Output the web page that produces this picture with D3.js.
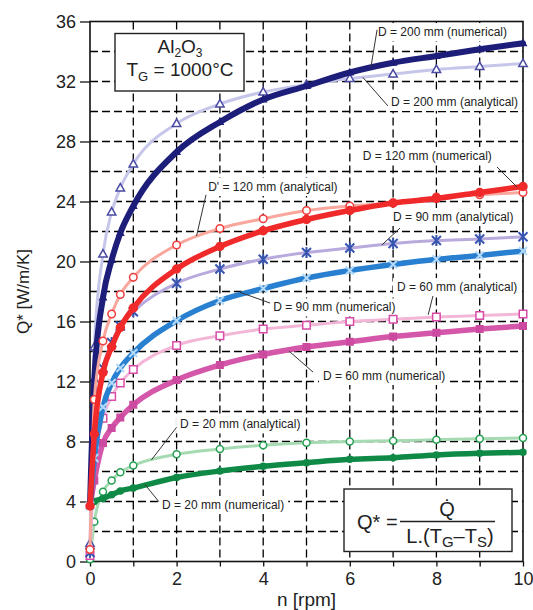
<!DOCTYPE html>
<html><head><meta charset="utf-8">
<script src="https://cdn.jsdelivr.net/npm/d3@7"></script>
<style>
body{margin:0;background:#fff}
svg{display:block}
text{font-family:"Liberation Sans",Arial,Helvetica,sans-serif}
</style>
</head><body>
<svg id="chart" width="533" height="610"></svg>
<script>
// ---------- data ----------
const nValues   = [0, 0.1, 0.3, 0.5, 0.7, 1, 2, 3, 4, 5, 6, 7, 8, 9, 10];
const anal200 = [1.2, 14.3, 20.5, 23.3, 24.9, 26.5, 29.2, 30.5, 31.3, 31.8, 32.2, 32.5, 32.8, 33.0, 33.2];
const num200  = [3.7, 12.2, 17.6, 20.1, 21.9, 23.7, 27.3, 29.3, 30.8, 31.7, 32.6, 33.25, 33.7, 34.15, 34.55];
const anal120 = [0.8, 10.8, 14.7, 16.5, 17.8, 18.95, 21.1, 22.2, 22.85, 23.4, 23.7, 23.9, 24.3, 24.45, 24.6];
const num120  = [3.7, 8.5, 12.6, 14.3, 15.6, 16.9, 19.5, 21.0, 22.05, 22.8, 23.4, 23.9, 24.2, 24.6, 25.0];
const anal90  = [0.6, 9.2, 12.9, 14.6, 15.7, 16.65, 18.55, 19.5, 20.15, 20.6, 20.9, 21.2, 21.4, 21.5, 21.65];
const num90   = [3.7, 6.9, 10.3, 11.9, 12.9, 13.9, 16.05, 17.4, 18.2, 18.9, 19.4, 19.8, 20.15, 20.4, 20.7];
const anal60  = [0.4, 6.4, 9.55, 11.0, 11.9, 12.8, 14.4, 15.05, 15.5, 15.75, 16.0, 16.15, 16.3, 16.4, 16.5];
const num60   = [3.7, 5.4, 7.9, 8.9, 9.6, 10.45, 12.1, 13.1, 13.8, 14.3, 14.65, 15.0, 15.25, 15.5, 15.7];
const anal20  = [0.15, 2.65, 4.65, 5.4, 5.95, 6.4, 7.15, 7.5, 7.75, 7.92, 8.0, 8.05, 8.12, 8.19, 8.23];
const num20   = [3.7, 4.0, 4.2, 4.45, 4.7, 4.9, 5.6, 6.03, 6.35, 6.59, 6.81, 6.92, 7.1, 7.21, 7.28];
const xTickLabels = [0, 2, 4, 6, 8, 10];
const yTickLabels = [0, 4, 8, 12, 16, 20, 24, 28, 32, 36];
const labelTexts = [
  "D = 200 mm (numerical)", "D = 200 mm (analytical)",
  "D = 120 mm (numerical)", "D' = 120 mm (analytical)",
  "D = 90 mm (analytical)", "D = 90 mm (numerical)",
  "D = 60 mm (analytical)", "D = 60 mm (numerical)",
  "D = 20 mm (analytical)", "D = 20 mm (numerical)"
];

// ---------- layout ----------
const W = 533, H = 610;
const L = 90, R = 523, T = 21.5, B = 561.5;
const x = d3.scaleLinear().domain([0, 10]).range([L, R]);
const y = d3.scaleLinear().domain([0, 36]).range([B, T]);
const svg = d3.select("#chart");

// series table (built from the arrays above)
const series = [
  {vals: anal20,  color:"#a6dab2", width:3,   mk:"circle",   mkStroke:"#25a052", mkFill:"#fff", size:7},
  {vals: num20,   color:"#0f8a46", width:5.5, mk:"dot",      mkStroke:"#0f8a46", mkFill:"#0f8a46", size:6},
  {vals: anal60,  color:"#f4b6d6", width:3,   mk:"square",   mkStroke:"#d84ca8", mkFill:"#fff", size:7.5},
  {vals: num60,   color:"#d457a9", width:5.5, mk:"fsquare",  mkStroke:"#cc4aa0", mkFill:"#cc4aa0", size:6.5},
  {vals: anal90,  color:"#b9aadd", width:3,   mk:"asterisk", mkStroke:"#3855b0", mkFill:"none", size:9},
  {vals: num90,   color:"#2a80d0", width:5.5, mk:"times",    mkStroke:"#b4daf8", mkFill:"none", size:8},
  {vals: anal200, color:"#c6c6ea", width:3,   mk:"triangle", mkStroke:"#4a4aa4", mkFill:"#fff", size:8},
  {vals: num200,  color:"#1d1d7a", width:6,   mk:"ftriangle",mkStroke:"#1d1d7a", mkFill:"#1d1d7a", size:6},
  {vals: anal120, color:"#f9a69d", width:3,   mk:"circle",   mkStroke:"#f03c3c", mkFill:"#fff", size:7.5},
  {vals: num120,  color:"#f02a2a", width:5.5, mk:"dot",      mkStroke:"#f02a2a", mkFill:"#f02a2a", size:8}
];

// annotation placement (data units): text start, leader from, leader to
const labelPos = [
  {t:[6.65,35.03], a:[6.63,35.45], b:[6.49,33.0]},
  {t:[6.95,30.37], a:[6.88,30.37], b:[6.30,32.28]},
  {t:[6.30,26.77], a:[9.40,26.30], b:[9.86,24.97]},
  {t:[2.73,24.70], a:[2.68,24.45], b:[2.46,21.70]},
  {t:[7.00,22.70], a:[7.16,22.23], b:[6.74,21.10]},
  {t:[4.23,16.67], a:[4.16,17.23], b:[3.46,17.95]},
  {t:[7.09,18.03], a:[7.92,17.70], b:[7.81,16.45]},
  {t:[5.38,12.10], a:[5.15,12.63], b:[4.60,14.02]},
  {t:[2.08,8.87],  a:[2.00,8.95],  b:[1.42,6.78]},
  {t:[1.66,3.50],  a:[1.59,3.99],  b:[1.27,5.13]}
];

// ---------- grid ----------
const grid = svg.append("g").attr("stroke","#000").attr("stroke-width",1.3).attr("stroke-dasharray","8,4");
grid.selectAll("line.v").data(d3.range(1,10)).join("line")
  .attr("x1",d=>x(d)).attr("x2",d=>x(d)).attr("y1",y(36)).attr("y2",y(0));
grid.selectAll("line.h").data(d3.range(2,36,2)).join("line")
  .attr("x1",x(0)).attr("x2",x(10)).attr("y1",d=>y(d)).attr("y2",d=>y(d));

// label backgrounds (measure text first)
const lblG = svg.append("g");
const measure = svg.append("g");
const bgs = [];
labelTexts.forEach((txt,i)=>{
  const p = labelPos[i];
  const t = measure.append("text").attr("x",x(p.t[0])).attr("y",y(p.t[1]))
    .attr("font-size",12).text(txt);
  bgs.push(t.node().getBBox());
  t.remove();
});
measure.remove();
lblG.selectAll("rect").data(bgs).join("rect")
  .attr("x",d=>d.x-4).attr("y",d=>d.y-2).attr("width",d=>d.width+8).attr("height",d=>d.height+4)
  .attr("fill","#fff");

// boxes (white, covering grid)
svg.append("rect").attr("x",115).attr("y",33.5).attr("width",129).attr("height",57.5)
  .attr("fill","#fff").attr("stroke","#222").attr("stroke-width",1.4);
svg.append("rect").attr("x",344).attr("y",489).attr("width",168).attr("height",62.5)
  .attr("fill","#fff").attr("stroke","#222").attr("stroke-width",1.4);

// frame
svg.append("rect").attr("x",x(0)).attr("y",y(36)).attr("width",x(10)-x(0)).attr("height",y(0)-y(36))
  .attr("fill","none").attr("stroke","#111").attr("stroke-width",1.6);

// ---------- axes ----------
const yAxis = svg.append("g").attr("transform",`translate(${x(0)},0)`)
  .call(d3.axisLeft(y).tickValues(yTickLabels).tickSize(10).tickPadding(4));
yAxis.select(".domain").remove();
yAxis.selectAll("text").attr("font-size",18).attr("fill","#222").style("font-family",'"Liberation Sans",Arial,sans-serif');
yAxis.selectAll("line").attr("stroke","#111").attr("stroke-width",1.3);

const xAxis = svg.append("g").attr("transform",`translate(0,${y(0)})`)
  .call(d3.axisBottom(x).tickValues(d3.range(0,11)).tickSize(5).tickPadding(6)
    .tickFormat(d=> xTickLabels.includes(d) ? d : ""));
xAxis.select(".domain").remove();
xAxis.selectAll("text").attr("font-size",18).attr("fill","#222").style("font-family",'"Liberation Sans",Arial,sans-serif');
xAxis.selectAll("line").attr("stroke","#111").attr("stroke-width",1.3);

svg.append("text").attr("x",(x(0)+x(10))/2).attr("y",606).attr("text-anchor","middle")
  .attr("font-size",19).attr("fill","#222").text("n [rpm]");
svg.append("text").attr("transform",`translate(29,${(y(0)+y(36))/2}) rotate(-90)`)
  .attr("text-anchor","middle").attr("font-size",17).attr("fill","#222").text("Q* [W/m/K]");

// ---------- curves ----------
const line = d3.line().x(d=>x(d[0])).y(d=>y(d[1])).curve(d3.curveMonotoneX);
function markerPath(type, s){
  const h = s/2;
  switch(type){
    case "triangle": case "ftriangle":
      return `M0,${-h*1.1}L${h*1.05},${h*0.75}L${-h*1.05},${h*0.75}Z`;
    case "square": case "fsquare":
      return `M${-h},${-h}h${s}v${s}h${-s}Z`;
    case "times":
      return `M${-h},${-h}L${h},${h}M${-h},${h}L${h},${-h}`;
    case "asterisk":
      return `M${-h},${-h}L${h},${h}M${-h},${h}L${h},${-h}M0,${-h*1.2}L0,${h*1.2}`;
    default: // circle / dot
      return `M${h},0A${h},${h} 0 1,1 ${-h},0A${h},${h} 0 1,1 ${h},0Z`;
  }
}
const cg = svg.append("g");
series.forEach(s=>{
  const pts = nValues.map((n,i)=>[n, s.vals[i]]);
  const g = cg.append("g");
  g.append("path").datum(pts).attr("d",line).attr("fill","none")
    .attr("stroke",s.color).attr("stroke-width",s.width).attr("stroke-linejoin","round").attr("stroke-linecap","round");
  g.selectAll("path.m").data(pts).join("path").attr("class","m")
    .attr("transform",d=>`translate(${x(d[0])},${y(d[1])})`)
    .attr("d",markerPath(s.mk,s.size))
    .attr("fill",s.mkFill).attr("stroke",s.mkStroke)
    .attr("stroke-width", (s.mk==="times"||s.mk==="asterisk") ? 2 : 1.5);
});

// ---------- labels ----------
const lg = svg.append("g");
labelTexts.forEach((txt,i)=>{
  const p = labelPos[i];
  lg.append("line").attr("x1",x(p.a[0])).attr("y1",y(p.a[1])).attr("x2",x(p.b[0])).attr("y2",y(p.b[1]))
    .attr("stroke","#333").attr("stroke-width",1);
  lg.append("text").attr("x",x(p.t[0])).attr("y",y(p.t[1])).attr("font-size",12).attr("fill","#222").text(txt);
});

// ---------- info boxes text ----------
const t1 = svg.append("text").attr("x",180).attr("y",52.5).attr("text-anchor","middle").attr("font-size",19).attr("fill","#222");
t1.append("tspan").text("Al");
t1.append("tspan").attr("dy",4).attr("font-size",12).text("2");
t1.append("tspan").attr("dy",-4).text("O");
t1.append("tspan").attr("dy",4).attr("font-size",12).text("3");
const t2 = svg.append("text").attr("x",180).attr("y",76).attr("text-anchor","middle").attr("font-size",19).attr("fill","#222");
t2.append("tspan").text("T");
t2.append("tspan").attr("dy",5).attr("font-size",13).text("G");
t2.append("tspan").attr("dy",-5).text(" = 1000°C");

svg.append("text").attr("x",357).attr("y",529).attr("font-size",20).attr("fill","#222").text("Q* =");
svg.append("line").attr("x1",400).attr("x2",495).attr("y1",521.5).attr("y2",521.5).attr("stroke","#222").attr("stroke-width",1.5);
svg.append("text").attr("x",447).attr("y",516).attr("text-anchor","middle").attr("font-size",20).attr("fill","#222").text("Q\u0307");
const t3 = svg.append("text").attr("x",450).attr("y",543).attr("text-anchor","middle").attr("font-size",20).attr("fill","#222");
t3.append("tspan").text("L.(T");
t3.append("tspan").attr("dy",4).attr("font-size",15).text("G");
t3.append("tspan").attr("dy",-4).text("–T");
t3.append("tspan").attr("dy",4).attr("font-size",15).text("S");
t3.append("tspan").attr("dy",-4).text(")");
</script>
</body></html>
